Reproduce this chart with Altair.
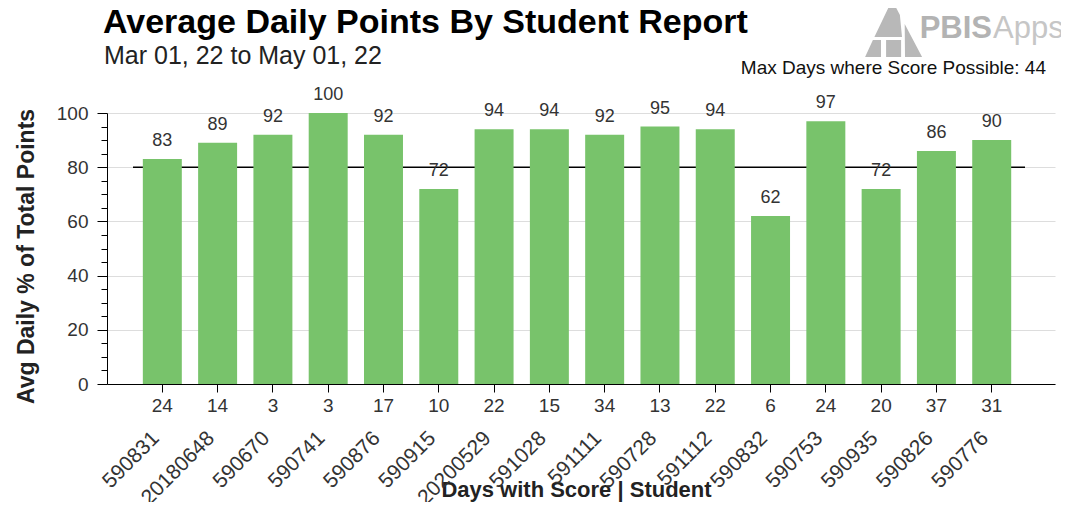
import altair as alt
import pandas as pd

# ---- data ----
students = ["590831", "20180648", "590670", "590741", "590876", "590915", "20200529", "591028",
            "591111", "590728", "591112", "590832", "590753", "590935", "590826", "590776"]
days = [24, 14, 3, 3, 17, 10, 22, 15, 34, 13, 22, 6, 24, 20, 37, 31]
avg_pct = [83, 89, 92, 100, 92, 72, 94, 94, 92, 95, 94, 62, 97, 72, 86, 90]
target = 80
y_major = [0, 20, 40, 60, 80, 100]
y_minor = [v for v in range(0, 101, 5) if v % 20 != 0]

title_text = "Average Daily Points By Student Report"
subtitle_text = "Mar 01, 22 to May 01, 22"
note_text = "Max Days where Score Possible: 44"

df = pd.DataFrame({"student": students, "days": days, "pct": avg_pct})

FONT = "Liberation Sans"
W, H = 948, 271

label_map = "{" + ",".join(f"'{s}':'{d}'" for s, d in zip(students, days)) + "}"

x_enc = alt.X(
    "student:N", sort=None,
    scale=alt.Scale(paddingInner=0.295, paddingOuter=0.72, align=0.45),
    axis=alt.Axis(
        title="Days with Score | Student", labelExpr=f"{label_map}[datum.value]",
        labelAngle=0, labelFontSize=19, labelFont=FONT, labelColor="#333333",
        labelPadding=4, tickSize=8, tickColor="#000000", domainColor="#000000",
        titleFont=FONT, titleFontSize=22, titleFontWeight="bold", titleColor="#222222",
        titleX=469, titleY=112, titleBaseline="alphabetic", titleAlign="center",
        grid=False,
    ),
)

y_scale = alt.Scale(domain=[0, 100], nice=False)

rule = alt.Chart(pd.DataFrame({"t": [target]})).mark_rule(color="#000000", strokeWidth=1.5).encode(
    y=alt.Y("t:Q", scale=y_scale, axis=None),
    x=alt.value(26), x2=alt.value(918),
)

bars = alt.Chart(df).mark_bar(color="#78C36B").encode(
    x=x_enc,
    y=alt.Y("pct:Q", scale=y_scale, axis=alt.Axis(
        orient="left",
        title="Avg Daily % of Total Points", values=y_major, labelFontSize=19, labelFont=FONT,
        labelColor="#333333", labelPadding=9, tickSize=10, tickColor="#000000",
        domainColor="#000000", gridColor="#dddddd", grid=True,
        titleFont=FONT, titleFontSize=23, titleFontWeight="bold", titleColor="#222222",
        titleX=-74, titleY=143, titleBaseline="alphabetic", titleAlign="center", titleAngle=-90,
    )),
)

minor = alt.Chart(pd.DataFrame({"v": y_minor})).mark_point(opacity=0).encode(
    y=alt.Y("v:Q", scale=y_scale, axis=alt.Axis(
        orient="left", values=y_minor, labels=False, tickSize=6, tickColor="#000000",
        domain=False, grid=False, title=None)),
)

labels = alt.Chart(df).mark_text(
    baseline="alphabetic", dy=-13, fontSize=18, font=FONT, color="#333333"
).encode(
    x=x_enc,
    y=alt.Y("pct:Q", scale=y_scale, axis=None),
    text=alt.Text("pct:Q", format=".0f"),
)

ids = alt.Chart(df).mark_text(
    angle=315, align="right", baseline="middle", fontSize=21, font=FONT, color="#333333", dx=-9
).encode(
    x=x_enc,
    y=alt.value(H + 45),
    text="student:N",
)

one = pd.DataFrame({"k": [0]})
title = alt.Chart(one).mark_text(
    align="left", baseline="alphabetic", fontSize=34, fontWeight="bold", font=FONT, color="#000000"
).encode(x=alt.value(-4), y=alt.value(-80), text=alt.value(title_text))

subtitle = alt.Chart(one).mark_text(
    align="left", baseline="alphabetic", fontSize=25, font=FONT, color="#222222"
).encode(x=alt.value(-3), y=alt.value(-49), text=alt.value(subtitle_text))

note = alt.Chart(one).mark_text(
    align="right", baseline="alphabetic", fontSize=19, font=FONT, color="#111111"
).encode(x=alt.value(939), y=alt.value(-39), text=alt.value(note_text))

logo_path = ("M-0.03,-0.95L0.23,-0.45L0.3,0.28L-0.62,0.28Z "
             "M-0.67,0.38L-0.4,0.38L-0.4,0.95L-0.93,0.95Z "
             "M-0.23,0.38L0.27,0.38L0.27,0.95L-0.23,0.95Z "
             "M0.39,-0.15L0.97,0.95L0.4,0.95Z")
logo_icon = alt.Chart(one).mark_point(
    shape=logo_path, filled=True, color="#b8b8b8", opacity=1, size=3600
).encode(x=alt.value(786), y=alt.value(-84.5))

logo_a = alt.Chart(one).mark_text(
    align="right", baseline="alphabetic", fontSize=31, fontWeight="bold", font=FONT, color="#b3b3b3"
).encode(x=alt.value(885), y=alt.value(-75), text=alt.value("PBIS"))

logo_b = alt.Chart(one).mark_text(
    align="left", baseline="alphabetic", fontSize=31, font=FONT, color="#c6c6c6"
).encode(x=alt.value(886), y=alt.value(-75), text=alt.value("Apps"))

chart = alt.layer(
    rule, bars, minor, labels, ids, title, subtitle, note, logo_icon, logo_a, logo_b
).resolve_axis(y="independent").properties(
    width=W, height=H,
    padding={"left": 99, "top": 105, "right": 6, "bottom": 118},
    autosize=alt.AutoSizeParams(type="none"),
).configure_view(stroke=None)

chart.save("out.html", embed_options={"renderer": "svg", "actions": False})
